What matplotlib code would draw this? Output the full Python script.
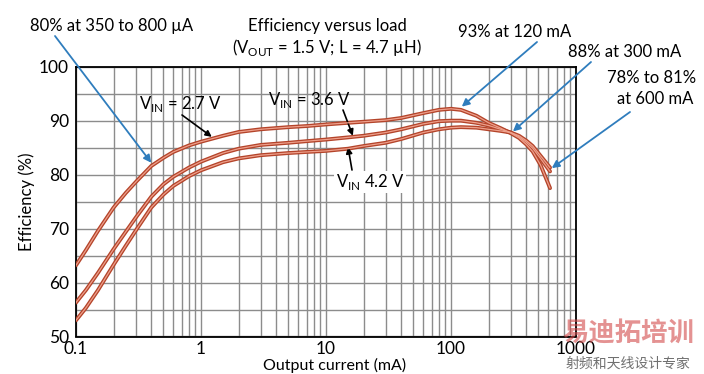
import matplotlib
matplotlib.use("Agg")
import matplotlib.pyplot as plt
from matplotlib.ticker import FixedLocator, NullFormatter, LogLocator

plt.rcParams['font.family'] = ['Lato', 'Noto Sans CJK SC', 'DejaVu Sans']

# ---- data ----
current_ma = [0.1, 0.12, 0.15, 0.2, 0.25, 0.3, 0.4, 0.5, 0.6, 0.8, 1, 1.5, 2, 3, 5, 7, 10, 15, 20, 30,
              40, 60, 80, 100, 120, 160, 200, 250, 300, 350, 400, 450, 520, 620]
eff_27 = [63.2, 66.0, 69.6, 73.9, 76.6, 78.6, 81.6, 83.1, 84.2, 85.4, 86.1, 87.2, 87.9, 88.4, 88.8, 89.0, 89.3, 89.6, 89.8, 90.1,
          90.5, 91.4, 92.0, 92.2, 92.0, 90.9, 89.6, 88.6, 87.7, 86.8, 85.6, 84.3, 81.8, 77.5]
eff_36 = [56.3, 58.6, 61.8, 66.2, 69.4, 72.0, 75.9, 78.2, 79.6, 81.3, 82.4, 84.0, 84.8, 85.5, 85.9, 86.2, 86.5, 86.9, 87.2, 87.8,
          88.4, 89.4, 89.9, 90.0, 90.0, 89.6, 89.1, 88.4, 87.8, 87.0, 86.0, 84.9, 83.0, 80.6]
eff_42 = [53.0, 55.3, 58.6, 63.3, 66.8, 69.6, 73.9, 76.3, 77.9, 79.7, 80.8, 82.3, 83.0, 83.6, 84.0, 84.2, 84.4, 84.8, 85.3, 85.9,
          86.6, 87.8, 88.4, 88.7, 88.8, 88.7, 88.4, 88.1, 87.8, 87.2, 86.3, 85.3, 83.5, 81.3]
x_ticks = [0.1, 1, 10, 100, 1000]
x_tick_labels = ['0.1', '1', '10', '100', '1000']
y_ticks = [50, 60, 70, 80, 90, 100]

W, H = 704, 374
fig = plt.figure(figsize=(W / 100, H / 100), dpi=100)
fig.patch.set_facecolor('white')
ax = fig.add_axes([76 / W, (H - 336.5) / H, 500 / W, (336.5 - 66.7) / H])

ax.set_xscale('log')
ax.set_xlim(0.1, 1000)
ax.set_ylim(50, 100)

grid_c = '#8c8c8c'
ax.set_xticks(x_ticks)
ax.set_xticklabels(x_tick_labels)
ax.xaxis.set_minor_locator(LogLocator(base=10, subs=range(2, 10)))
ax.xaxis.set_minor_formatter(NullFormatter())
ax.set_yticks(y_ticks)
ax.yaxis.set_minor_locator(FixedLocator([55, 65, 75, 85, 95]))
ax.grid(True, which='both', color=grid_c, lw=1.0)
ax.set_axisbelow(True)
ax.tick_params(which='both', length=0, labelsize=12.5)
ax.tick_params(axis='x', pad=3)
ax.tick_params(axis='y', pad=5)
for s in ax.spines.values():
    s.set_color('black')
    s.set_linewidth(1.3)

for ys in (eff_27, eff_36, eff_42):
    ax.plot(current_ma, ys, color='#b4442a', lw=2.8, solid_capstyle='round', solid_joinstyle='round', zorder=3)
    ax.plot(current_ma, ys, color='#eea08c', lw=0.9, solid_capstyle='round', solid_joinstyle='round', zorder=4)

ax.set_ylabel('Efficiency (%)', fontsize=12, labelpad=3)
fig.text(335 / W, 1 - 365.5 / H, 'Output current (mA)', ha='center', va='center', fontsize=11.5)

def fp(x, y):
    return (x, H - y)

fs = 12
# title
fig.text(327 / W, 1 - 26 / H, 'Efficiency versus load', ha='center', va='center', fontsize=fs)
fig.text(327 / W, 1 - 47 / H, r'(V$_{\mathregular{OUT}}$ = 1.5 V; L = 4.7 µH)', ha='center', va='center', fontsize=fs)

blue = '#2f7dbd'
bprops = dict(arrowstyle='-|>', color=blue, lw=1.3, mutation_scale=11, shrinkA=0, shrinkB=0)
kprops = dict(arrowstyle='-|>', color='black', lw=1.2, mutation_scale=9, shrinkA=0, shrinkB=0)

fig.text(30 / W, 1 - 26 / H, '80% at 350 to 800 µA', ha='left', va='center', fontsize=fs)
ax.annotate('', xy=(0.4, 82.2), xycoords='data', xytext=fp(55, 36), textcoords='figure pixels', arrowprops=bprops)

fig.text(515 / W, 1 - 32 / H, '93% at 120 mA', ha='center', va='center', fontsize=fs)
ax.annotate('', xy=(122, 92.6), xycoords='data', xytext=fp(537, 42), textcoords='figure pixels', arrowprops=bprops)

fig.text(625 / W, 1 - 52 / H, '88% at 300 mA', ha='center', va='center', fontsize=fs)
ax.annotate('', xy=(313, 88.0), xycoords='data', xytext=fp(591, 62), textcoords='figure pixels', arrowprops=bprops)

fig.text(652 / W, 1 - 78 / H, '78% to 81%', ha='center', va='center', fontsize=fs)
fig.text(655 / W, 1 - 99 / H, 'at 600 mA', ha='center', va='center', fontsize=fs)
ax.annotate('', xy=(640, 81.2), xycoords='data', xytext=fp(630, 112), textcoords='figure pixels', arrowprops=bprops)

fig.text(180 / W, 1 - 104 / H, r'V$_{\mathregular{IN}}$ = 2.7 V', ha='center', va='center', fontsize=fs)
ax.annotate('', xy=(1.22, 87.0), xycoords='data', xytext=fp(182, 115), textcoords='figure pixels', arrowprops=kprops)

fig.text(309 / W, 1 - 100 / H, r'V$_{\mathregular{IN}}$ = 3.6 V', ha='center', va='center', fontsize=fs)
ax.annotate('', xy=(16.4, 87.2), xycoords='data', xytext=fp(343, 110), textcoords='figure pixels', arrowprops=kprops)

fig.text(370 / W, 1 - 182 / H, r'V$_{\mathregular{IN}}$ 4.2 V', ha='center', va='center', fontsize=fs,
         bbox=dict(facecolor='white', edgecolor='none', pad=1))
ax.annotate('', xy=(15, 85.1), xycoords='data', xytext=fp(352, 170), textcoords='figure pixels', arrowprops=kprops)

# watermark
fig.text(628 / W, 1 - 334 / H, '易迪拓培训', ha='center', va='center', fontsize=19,
         color='#d24a4a', alpha=0.6, family=['Noto Sans CJK SC'], fontweight='bold')
fig.text(628 / W, 1 - 364 / H, '射频和天线设计专家', ha='center', va='center', fontsize=10,
         color='#707070', family=['Noto Sans CJK SC'])

fig.savefig('out.png', dpi=100)
